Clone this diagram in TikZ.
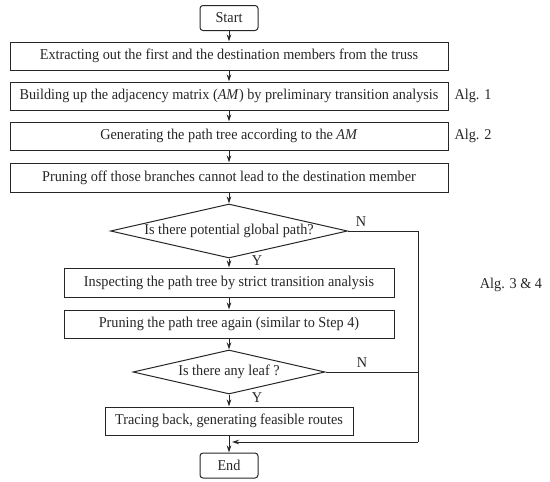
\documentclass[tikz,border=0pt]{standalone}
\usepackage{fontspec}
\setmainfont[FakeStretch=0.95]{Liberation Serif}
\usetikzlibrary{shapes.geometric,arrows.meta}
\definecolor{ink}{HTML}{262626}
\begin{document}
\begin{tikzpicture}[x=1pt,y=-1pt,
  every node/.style={font=\fontsize{15}{17}\selectfont, text=ink},
  stepbox/.style={draw=ink, line width=1pt, minimum height=28pt, inner sep=0pt},
  termbox/.style={draw=ink, line width=1pt, rounded corners=3pt, minimum width=58pt, minimum height=25pt, inner sep=0pt},
  decbox/.style={draw=ink, line width=1pt, diamond, inner sep=0pt, aspect=4.4},
  conn/.style={draw=ink, line width=1pt, -{Stealth[length=7pt,width=4.5pt]}},
  plainline/.style={draw=ink, line width=1pt},
  lbl/.style={inner sep=0pt}
]
\useasboundingbox (0,0) rectangle (550,482);
\node[termbox] (start) at (229,18) {Start};
\node[stepbox, minimum width=438pt] (b1) at (229,56) {Extracting out the first and the destination members from the truss};
\node[stepbox, minimum width=438pt] (b2) at (229,96) {Building up the adjacency matrix (\textit{AM}) by preliminary transition analysis};
\node[stepbox, minimum width=438pt] (b3) at (229,136) {Generating the path tree according to the \textit{AM}};
\node[stepbox, minimum width=438pt, minimum height=29pt] (b4) at (229,177.5) {Pruning off those branches cannot lead to the destination member};
\node[decbox, minimum width=237pt, minimum height=54pt] (d1) at (229,231) {Is there potential global path?};
\node[stepbox, minimum width=330pt, minimum height=29pt] (b5) at (229,282.5) {Inspecting the path tree by strict transition analysis};
\node[stepbox, minimum width=330pt] (b6) at (229,324) {Pruning the path tree again (similar to Step 4)};
\node[decbox, minimum width=192pt, minimum height=44pt] (d2) at (229,372) {Is there any leaf ?};
\node[stepbox, minimum width=248pt] (b7) at (229,421) {Tracing back, generating feasible routes};
\node[termbox] (end) at (229,465.5) {End};

\node[lbl] (a1) at (473,96) {Alg. 1};
\node[lbl] (a2) at (473,136) {Alg. 2};
\node[lbl] (a34) at (511,285) {Alg. 3 \& 4};

\node[lbl] (n1) at (361,222) {N};
\node[lbl] (y1) at (257,261) {Y};
\node[lbl] (n2) at (362,363) {N};
\node[lbl] (y2) at (257,398) {Y};

\coordinate (c1) at (418,231);
\coordinate (c2) at (418,372);
\coordinate (c3) at (418,442);
\coordinate (c4) at (232,442);

\draw[conn] (start) -- (b1);
\draw[conn] (b1) -- (b2);
\draw[conn] (b2) -- (b3);
\draw[conn] (b3) -- (b4);
\draw[conn] (b4) -- (d1);
\draw[conn] (d1) -- (b5);
\draw[conn] (b5) -- (b6);
\draw[conn] (b6) -- (d2);
\draw[conn] (d2) -- (b7);
\draw[conn] (b7) -- (end);
\draw[plainline] (d1.east) -- (c1) -- (c3);
\draw[plainline] (d2.east) -- (c2);
\draw[conn] (c3) -- (c4);
\end{tikzpicture}
\end{document}
